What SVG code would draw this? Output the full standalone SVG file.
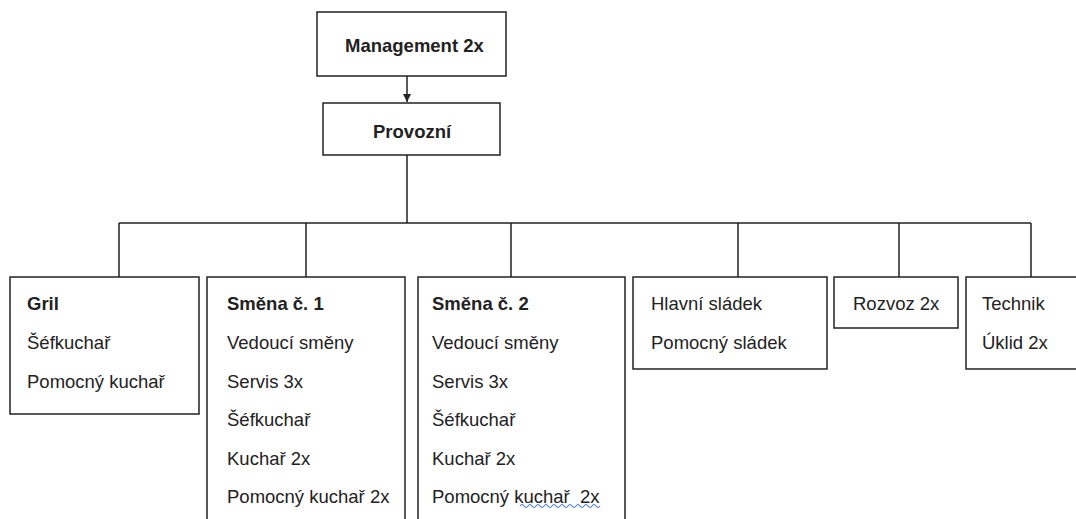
<svg xmlns="http://www.w3.org/2000/svg" width="1076" height="519" viewBox="0 0 1076 519">
<style>
.box{fill:#fff;stroke:#222;stroke-width:1.5}
.ln{fill:none;stroke:#222;stroke-width:1.5}
text{font-family:"Liberation Sans",Arial,sans-serif;font-size:18.5px;fill:#222}
.b{font-weight:bold}
.sq{fill:none;stroke:#4a7ee0;stroke-width:1.2}
</style>
<defs>
<marker id="arr" viewBox="0 0 10 10" refX="10" refY="5" markerWidth="8" markerHeight="8" markerUnits="userSpaceOnUse" orient="auto">
<path d="M0,0 L10,5 L0,10 z" fill="#222"/>
</marker>
</defs>
<rect width="1076" height="519" fill="#fff"/>
<g id="connectors">
<line class="ln" x1="407" y1="76" x2="407" y2="102" marker-end="url(#arr)"/>
<path class="ln" d="M407,155 V223 M119,223 H1031 M119,223 V277 M306,223 V277 M511,223 V277 M738,223 V277 M899,223 V277 M1031,223 V277"/>
</g>
<g id="management">
<rect class="box" x="317" y="12" width="189" height="64"/>
<text class="b" x="345" y="52">Management 2x</text>
</g>
<g id="provozni">
<rect class="box" x="323" y="103" width="177" height="52"/>
<text class="b" x="373" y="138">Provozní</text>
</g>
<g id="gril">
<rect class="box" x="10" y="277" width="189" height="137"/>
<text class="b" x="27" y="310">Gril</text>
<text x="27" y="349">Šéfkuchař</text>
<text x="27" y="388">Pomocný kuchař</text>
</g>
<g id="smena1">
<rect class="box" x="207" y="277" width="198" height="260"/>
<text class="b" x="227" y="310">Směna č. 1</text>
<text x="227" y="349">Vedoucí směny</text>
<text x="227" y="388">Servis 3x</text>
<text x="227" y="426">Šéfkuchař</text>
<text x="227" y="465">Kuchař 2x</text>
<text x="227" y="503">Pomocný kuchař 2x</text>
</g>
<g id="smena2">
<rect class="box" x="418" y="277" width="207" height="260"/>
<text class="b" x="432" y="310">Směna č. 2</text>
<text x="432" y="349">Vedoucí směny</text>
<text x="432" y="388">Servis 3x</text>
<text x="432" y="426">Šéfkuchař</text>
<text x="432" y="465">Kuchař 2x</text>
<text x="432" y="503">Pomocný kuchař&#160; 2x</text>
<path class="sq" d="M520,506 q2,-3 4,0 t4,0 t4,0 t4,0 t4,0 t4,0 t4,0 t4,0 t4,0 t4,0 t4,0 t4,0 t4,0 t4,0 t4,0 t4,0 t4,0 t4,0 t4,0 t4,0"/>
</g>
<g id="sladek">
<rect class="box" x="633" y="277" width="194" height="92"/>
<text x="651" y="310">Hlavní sládek</text>
<text x="651" y="349">Pomocný sládek</text>
</g>
<g id="rozvoz">
<rect class="box" x="834" y="277" width="124" height="51"/>
<text x="853" y="310">Rozvoz 2x</text>
</g>
<g id="technik">
<rect class="box" x="966" y="277" width="130" height="92"/>
<text x="982" y="310">Technik</text>
<text x="982" y="349">Úklid 2x</text>
</g>
</svg>
